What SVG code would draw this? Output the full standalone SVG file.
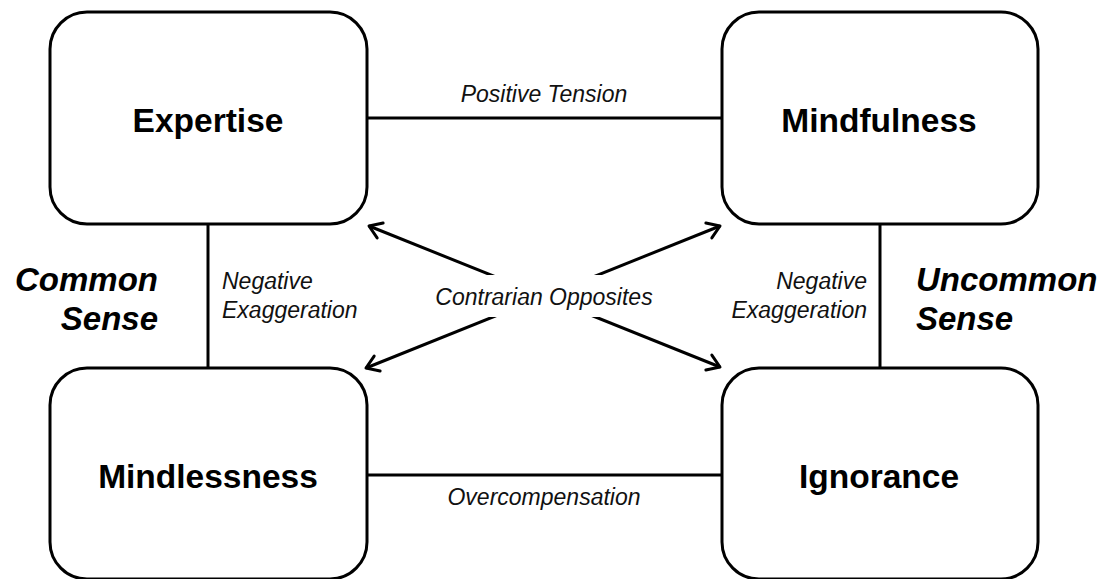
<svg xmlns="http://www.w3.org/2000/svg" width="1104" height="579" viewBox="0 0 1104 579">
<style>
.box{fill:#fff;stroke:#000;stroke-width:3}
.conn{stroke:#000;stroke-width:3;fill:none}
.node{font-family:"Liberation Sans",Arial,sans-serif;font-weight:bold;font-size:33.5px;text-anchor:middle;fill:#000}
.lbl{font-family:"Liberation Sans",Arial,sans-serif;font-style:italic;font-size:23px;fill:#111}
.side{font-family:"Liberation Sans",Arial,sans-serif;font-style:italic;font-weight:bold;font-size:33px;fill:#000}
</style>
<defs>
<marker id="arr" viewBox="0 0 20 20" refX="18" refY="10" markerWidth="20" markerHeight="20" markerUnits="userSpaceOnUse" orient="auto-start-reverse">
<path d="M6,2 L18,10 L6,18" fill="none" stroke="#000" stroke-width="3" stroke-linecap="round" stroke-linejoin="round"/>
</marker>
</defs>
<rect width="1104" height="579" fill="#fff"/>
<g id="connectors">
<line class="conn" x1="367" y1="118" x2="722" y2="118"/>
<line class="conn" x1="367" y1="475" x2="722" y2="475"/>
<line class="conn" x1="208" y1="224" x2="208" y2="368"/>
<line class="conn" x1="880" y1="224" x2="880" y2="368"/>
<line class="conn" x1="369" y1="226" x2="720" y2="367" marker-start="url(#arr)" marker-end="url(#arr)"/>
<line class="conn" x1="720" y1="226" x2="366" y2="368" marker-start="url(#arr)" marker-end="url(#arr)"/>
<rect x="428" y="275" width="232" height="42" fill="#fff"/>
<text class="lbl" x="544" y="305" text-anchor="middle">Contrarian Opposites</text>
<text class="lbl" x="544" y="102" text-anchor="middle">Positive Tension</text>
<text class="lbl" x="544" y="505" text-anchor="middle">Overcompensation</text>
<text class="lbl" x="222" y="289">Negative</text>
<text class="lbl" x="222" y="318">Exaggeration</text>
<text class="lbl" x="867" y="289" text-anchor="end">Negative</text>
<text class="lbl" x="867" y="318" text-anchor="end">Exaggeration</text>
</g>
<g id="side-labels">
<text class="side" x="158" y="291" text-anchor="end">Common</text>
<text class="side" x="158" y="330" text-anchor="end">Sense</text>
<text class="side" x="916" y="291">Uncommon</text>
<text class="side" x="916" y="330">Sense</text>
</g>
<g id="expertise">
<rect class="box" x="50" y="12" width="317" height="212" rx="37"/>
<text class="node" x="208" y="132">Expertise</text>
</g>
<g id="mindfulness">
<rect class="box" x="722" y="12" width="316" height="212" rx="37"/>
<text class="node" x="879" y="132">Mindfulness</text>
</g>
<g id="mindlessness">
<rect class="box" x="50" y="368" width="317" height="211" rx="37"/>
<text class="node" x="208" y="488">Mindlessness</text>
</g>
<g id="ignorance">
<rect class="box" x="722" y="368" width="316" height="211" rx="37"/>
<text class="node" x="879" y="488">Ignorance</text>
</g>
</svg>
